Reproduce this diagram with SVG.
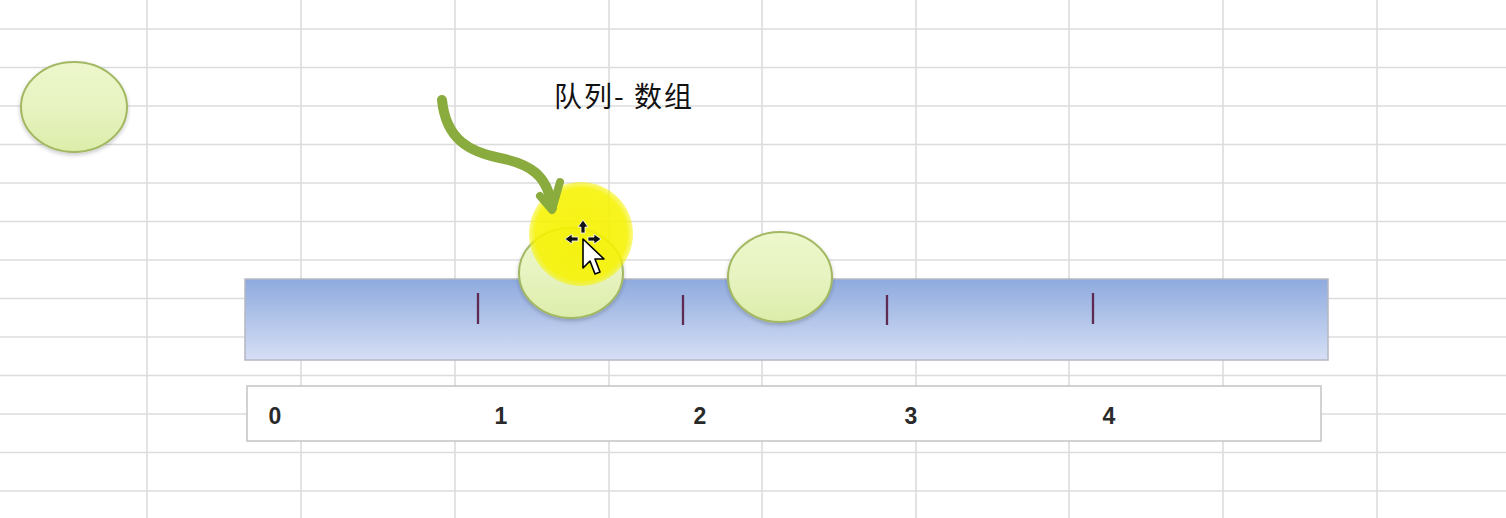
<svg xmlns="http://www.w3.org/2000/svg" width="1506" height="518" viewBox="0 0 1506 518">
<defs>
<style>
.grid line{stroke:#dcdcdc;stroke-width:1.6}
.ball{fill:url(#gBall);stroke:#a2b862;stroke-width:2}
.tick{stroke:#5e2a52;stroke-width:2.3}
.num{font-family:"Liberation Sans",Arial,sans-serif;font-size:23px;font-weight:bold;fill:#2a2a2a;text-anchor:middle}
.title{font-family:"Noto Sans CJK SC","Noto Sans",sans-serif;font-size:28px;letter-spacing:2px;fill:#111}
</style>
<linearGradient id="gBall" x1="0" y1="0" x2="0" y2="1">
<stop offset="0" stop-color="#edf7cc"/>
<stop offset="0.5" stop-color="#e7f3c0"/>
<stop offset="1" stop-color="#dcedaa"/>
</linearGradient>
<linearGradient id="gBar" x1="0" y1="0" x2="0" y2="1">
<stop offset="0" stop-color="#8eaade"/>
<stop offset="1" stop-color="#d6dff5"/>
</linearGradient>
<radialGradient id="gYel" cx="0.5" cy="0.5" r="0.5">
<stop offset="0" stop-color="#f6f200" stop-opacity="0.92"/>
<stop offset="0.88" stop-color="#f6f200" stop-opacity="0.88"/>
<stop offset="1" stop-color="#f6f200" stop-opacity="0.5"/>
</radialGradient>
<filter id="shadow" x="-20%" y="-20%" width="140%" height="150%">
<feGaussianBlur in="SourceAlpha" stdDeviation="2"/>
<feOffset dy="2"/>
<feComponentTransfer><feFuncA type="linear" slope="0.22"/></feComponentTransfer>
<feMerge><feMergeNode/><feMergeNode in="SourceGraphic"/></feMerge>
</filter>
</defs>
<rect width="1506" height="518" fill="#ffffff"/>
<g class="grid" id="grid">
<line x1="147" y1="0" x2="147" y2="518"/>
<line x1="301" y1="0" x2="301" y2="518"/>
<line x1="455" y1="0" x2="455" y2="518"/>
<line x1="609" y1="0" x2="609" y2="518"/>
<line x1="762" y1="0" x2="762" y2="518"/>
<line x1="916" y1="0" x2="916" y2="518"/>
<line x1="1069" y1="0" x2="1069" y2="518"/>
<line x1="1223" y1="0" x2="1223" y2="518"/>
<line x1="1377" y1="0" x2="1377" y2="518"/>
<line x1="0" y1="29" x2="1506" y2="29"/>
<line x1="0" y1="67.5" x2="1506" y2="67.5"/>
<line x1="0" y1="106" x2="1506" y2="106"/>
<line x1="0" y1="144.5" x2="1506" y2="144.5"/>
<line x1="0" y1="183" x2="1506" y2="183"/>
<line x1="0" y1="221.5" x2="1506" y2="221.5"/>
<line x1="0" y1="260" x2="1506" y2="260"/>
<line x1="0" y1="298.5" x2="1506" y2="298.5"/>
<line x1="0" y1="337" x2="1506" y2="337"/>
<line x1="0" y1="375.5" x2="1506" y2="375.5"/>
<line x1="0" y1="414" x2="1506" y2="414"/>
<line x1="0" y1="452.5" x2="1506" y2="452.5"/>
<line x1="0" y1="491" x2="1506" y2="491"/>
</g>
<g id="queue-bar">
<rect x="245" y="279" width="1083" height="81" fill="url(#gBar)" stroke="#b4b8c0" stroke-width="1.5"/>
<line class="tick" x1="478" y1="293" x2="478" y2="324"/>
<line class="tick" x1="683" y1="295" x2="683" y2="325"/>
<line class="tick" x1="887" y1="295" x2="887" y2="325"/>
<line class="tick" x1="1093" y1="293" x2="1093" y2="324"/>
</g>
<g id="index-box">
<rect x="247" y="386" width="1074" height="55" fill="#ffffff" stroke="#c4c4c4" stroke-width="1.5"/>
<text class="num" x="275" y="424">0</text>
<text class="num" x="501" y="424">1</text>
<text class="num" x="700" y="424">2</text>
<text class="num" x="911" y="424">3</text>
<text class="num" x="1109" y="424">4</text>
</g>
<g id="title">
<text class="title" x="554" y="107">队列- 数组</text>
</g>
<g id="ball-left"><ellipse class="ball" cx="74" cy="107" rx="53" ry="45" filter="url(#shadow)"/></g>
<g id="ball-right"><ellipse class="ball" cx="780" cy="277" rx="52" ry="45" filter="url(#shadow)"/></g>
<g id="ball-middle"><ellipse class="ball" cx="571" cy="273" rx="52" ry="45" filter="url(#shadow)"/></g>
<g id="highlight">
<circle cx="581" cy="234" r="52" fill="url(#gYel)"/>
</g>
<g id="connectors">
<path d="M442,100 C446,140 470,152 500,158 C530,164 548,175 552,208" fill="none" stroke="#8aab3e" stroke-width="10" stroke-linecap="round"/>
<path d="M540,196 L552,210 L560,182" fill="none" stroke="#8aab3e" stroke-width="8" stroke-linecap="round" stroke-linejoin="round"/>
</g>
<g id="cursor">
<g fill="#111" stroke="#fff" stroke-width="0.8">
<path d="M583,220 L588,227 L585,227 L585,233 L581,233 L581,227 L578,227 Z"/>
<path d="M565,239 L572,234 L572,237 L578,237 L578,241 L572,241 L572,244 Z"/>
<path d="M601,239 L594,234 L594,237 L588,237 L588,241 L594,241 L594,244 Z"/>
</g>
<path d="M583,239 L583,268 L590,261 L595,274 L600,272 L595,259 L604,259 Z" fill="#fff" stroke="#000" stroke-width="1.6" stroke-linejoin="round"/>
</g>
</svg>
